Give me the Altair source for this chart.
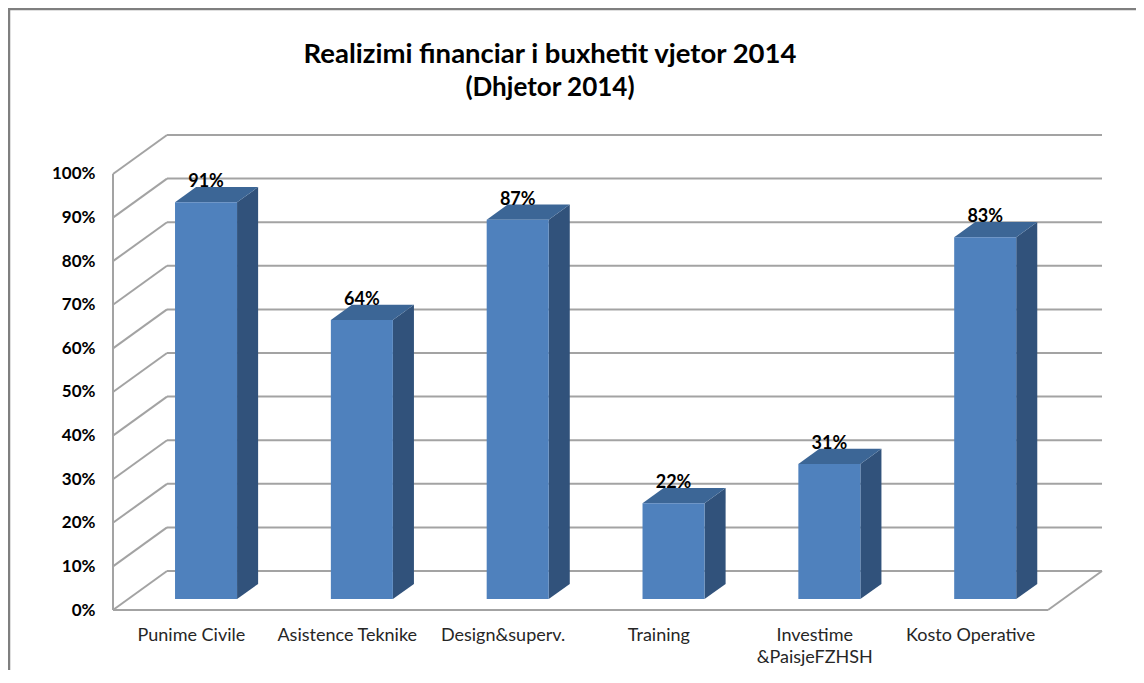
import altair as alt
import pandas as pd

# ---- data ----
categories = ["Punime Civile", "Asistence Teknike", "Design&superv.", "Training",
              "Investime\n&PaisjeFZHSH", "Kosto Operative"]
values = [91, 64, 87, 22, 31, 83]
y_ticks = [0, 10, 20, 30, 40, 50, 60, 70, 80, 90, 100]
title_line1 = "Realizimi financiar  i buxhetit vjetor 2014"
title_line2 = "(Dhjetor 2014)"

# ---- 3D geometry (styling, in data units of the front plane) ----
DX = 0.3466   # full depth, x units
DY = 8.94     # full depth, % units
TF = 0.28     # depth of bar front face
TB = 0.67     # depth of bar back face
HW = 0.199    # half width of bar
N = len(categories)

FONT = "Lato"
FRONT_C = "#4F81BD"
SIDE_C = "#31527B"
TOP_C = "#3C6696"
GRID_C = "#A3A3A3"

xs = alt.Scale(domain=[0, N + DX], nice=False, zero=False)
ys = alt.Scale(domain=[0, 100 + DY], nice=False, zero=False)

label_arr = "[" + ",".join(
    "[" + ",".join("'" + p + "'" for p in c.split("\n")) + "]" for c in categories
) + "]"

X_AX = alt.Axis(values=[i + 0.5 for i in range(N)], labelExpr=label_arr + "[floor(datum.value)]",
                domain=False, ticks=False, tickSize=0, grid=False, title=None,
                labelPadding=16, labelFont=FONT, labelFontSize=18, labelColor="#262626",
                labelLineHeight=22, labelOverlap=False, labelFlush=False, labelBound=False)
Y_AX = alt.Axis(values=y_ticks, labelExpr="datum.value + '%'", domain=False, ticks=False,
                tickSize=0, grid=False, title=None, labelPadding=18, labelFont=FONT,
                labelFontSize=17, labelFontWeight="bold", labelColor="#000000",
                labelOverlap=False, labelFlush=False, labelBound=False)

# ---- tables ----
segs = []
for g in y_ticks:
    segs.append(dict(x=DX, x2=N + DX, y=g + DY, y2=g + DY))      # back wall
    segs.append(dict(x=0, x2=DX, y=g, y2=g + DY))                # left wall
segs.append(dict(x=0, x2=0, y=0, y2=100))                         # front left edge
segs.append(dict(x=0, x2=N, y=0, y2=0))                           # floor front
segs.append(dict(x=N, x2=N + DX, y=0, y2=DY))                     # floor right
grid_df = pd.DataFrame(segs)

front_rows, side_rows, top_rows, lab_rows = [], [], [], []
for i, (c, v) in enumerate(zip(categories, values)):
    cx = i + 0.5
    front_rows.append(dict(cat=c, x=cx - HW + TF * DX, x2=cx + HW + TF * DX,
                           y=TF * DY, y2=v + TF * DY))
    for t in (TF, TB):
        side_rows.append(dict(cat=c, x=cx + HW + t * DX, top=v + t * DY, bot=t * DY))
        top_rows.append(dict(cat=c, y=v + t * DY, xl=cx - HW + t * DX, xr=cx + HW + t * DX))
    lab_rows.append(dict(cat=c, x=cx + TF * DX, y=v + TB * DY, label=f"{v}%"))

front_df = pd.DataFrame(front_rows)
side_df = pd.DataFrame(side_rows)
top_df = pd.DataFrame(top_rows)
lab_df = pd.DataFrame(lab_rows)


def X(f, **kw):
    return alt.X(f, scale=xs, axis=X_AX, **kw)


def Y(f, **kw):
    return alt.Y(f, scale=ys, axis=Y_AX, **kw)


grid = alt.Chart(grid_df).mark_rule(color=GRID_C, strokeWidth=2).encode(
    x=X("x:Q"), x2="x2:Q", y=Y("y:Q"), y2="y2:Q")

side = alt.Chart(side_df).mark_area(color=SIDE_C).encode(
    x=X("x:Q"), y=Y("top:Q", stack=None), y2="bot:Q", detail="cat:N")

top = alt.Chart(top_df).mark_area(color=TOP_C, orient="horizontal").encode(
    y=Y("y:Q"), x=X("xl:Q", stack=None), x2="xr:Q", detail="cat:N")

front = alt.Chart(front_df).mark_rect(color=FRONT_C).encode(
    x=X("x:Q"), x2="x2:Q", y=Y("y:Q"), y2="y2:Q")

labels = alt.Chart(lab_df).mark_text(font=FONT, fontSize=18, fontWeight="bold",
                                     color="#000000", baseline="alphabetic", dy=0).encode(
    x=X("x:Q"), y=Y("y:Q"), text="label:N")

one = pd.DataFrame({"k": [0]})
frame_left = alt.Chart(one).mark_rule(color="#7F7F7F", strokeWidth=2.5).encode(
    x=alt.value(-104), y=alt.value(-127), y2=alt.value(600))
frame_top = alt.Chart(one).mark_rule(color="#7F7F7F", strokeWidth=2.5).encode(
    x=alt.value(-105), x2=alt.value(1100), y=alt.value(-126))

t1 = alt.Chart(one).mark_text(font=FONT, fontSize=27.5, fontWeight="bold", color="#000000",
                              align="center", baseline="middle").encode(
    x=alt.value(437), y=alt.value(-80), text=alt.value(title_line1))
t2 = alt.Chart(one).mark_text(font=FONT, fontSize=26, fontWeight="bold", color="#000000",
                              align="center", baseline="middle").encode(
    x=alt.value(437), y=alt.value(-47), text=alt.value(title_line2))

chart = alt.layer(grid, side, top, front, labels, frame_left, frame_top, t1, t2).properties(
    width=989, height=475,
    autosize=alt.AutoSizeParams(type="none"),
    padding={"left": 105, "top": 127, "right": 34, "bottom": 60},
).configure_view(stroke=None)

chart.save("out.html", embed_options={"renderer": "svg", "actions": False})
